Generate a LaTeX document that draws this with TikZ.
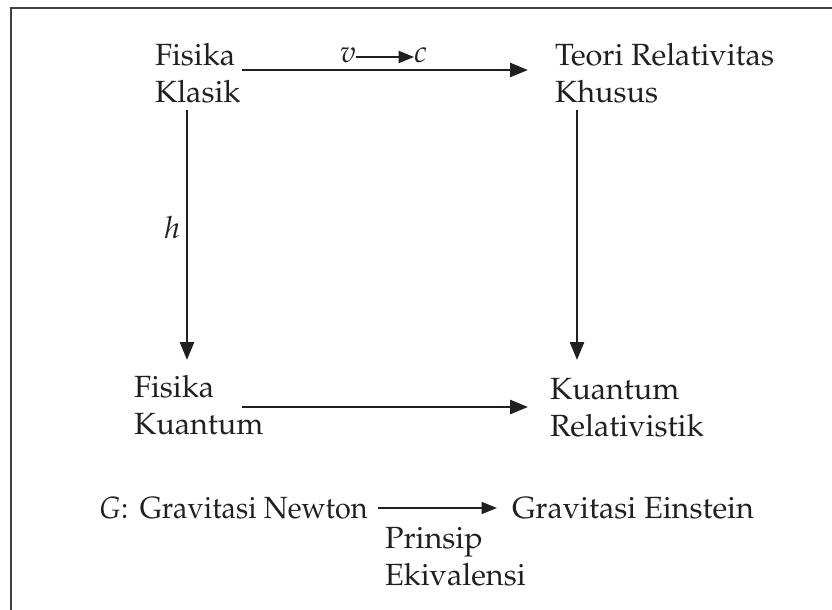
\documentclass[tikz,border=0pt]{standalone}
\usepackage[T1]{fontenc}
\usepackage{mathpazo}
\usetikzlibrary{arrows.meta}
\definecolor{ink}{HTML}{231F20}
\begin{document}
\begin{tikzpicture}[x=0.75pt,y=-0.75pt,
  lbl/.style={inner sep=0pt, outer sep=0pt, align=left, text=ink,
    font=\fontsize{23}{28}\selectfont},
  bigarr/.style={draw=ink, line width=2pt, -{Triangle[length=13.5pt,width=10.5pt]}},
  smallarr/.style={draw=ink, line width=1.2pt, -{Triangle[length=11.5pt,width=9pt]}},
  framel/.style={draw=black!75, line width=1.5pt}]
\useasboundingbox (0,0) rectangle (832,610);
\draw[framel] (11,610) -- (11,8) -- (832,8);
% nodes
\node[lbl, anchor=north west] (FK) at (155,43) {Fisika\\Klasik};
\node[lbl, anchor=north west] (TR) at (555,43) {Teori Relativitas\\Khusus};
\node[lbl, anchor=north west] (FQ) at (134,375) {Fisika\\Kuantum};
\node[lbl, anchor=north west] (KR) at (550,378) {Kuantum\\Relativistik};
\node[lbl, anchor=base west, xscale=0.94, transform shape] (GN) at (99,518) {$G$:\hspace{0.4em}Gravitasi Newton};
\node[lbl, anchor=base west] (GE) at (512,518) {Gravitasi Einstein};
\node[lbl, anchor=north west] (PE) at (385,527) {Prinsip\\Ekivalensi};
\node[lbl, anchor=base west] (v) at (340,63) {$v$};
\node[lbl, anchor=base west] (c) at (414,63) {$c$};
\node[lbl, anchor=base west] (h) at (164,238) {$h$};
% connector ends
\coordinate (t1) at (242,70);  \coordinate (t2) at (528,70);
\coordinate (l1) at (187,110); \coordinate (l2) at (187,360);
\coordinate (r1) at (577,110); \coordinate (r2) at (577,360);
\coordinate (b1) at (242,407); \coordinate (b2) at (528,407);
\coordinate (g1) at (378,508); \coordinate (g2) at (497,508);
\coordinate (s1) at (356,57);
% connectors
\draw[bigarr] (t1) -- (t2);
\draw[bigarr] (l1) -- (l2);
\draw[bigarr] (r1) -- (r2);
\draw[bigarr] (b1) -- (b2);
\draw[smallarr] (g1) -- (g2);
\draw[smallarr] (s1) -- (s1 -| c.west);
\end{tikzpicture}
\end{document}
